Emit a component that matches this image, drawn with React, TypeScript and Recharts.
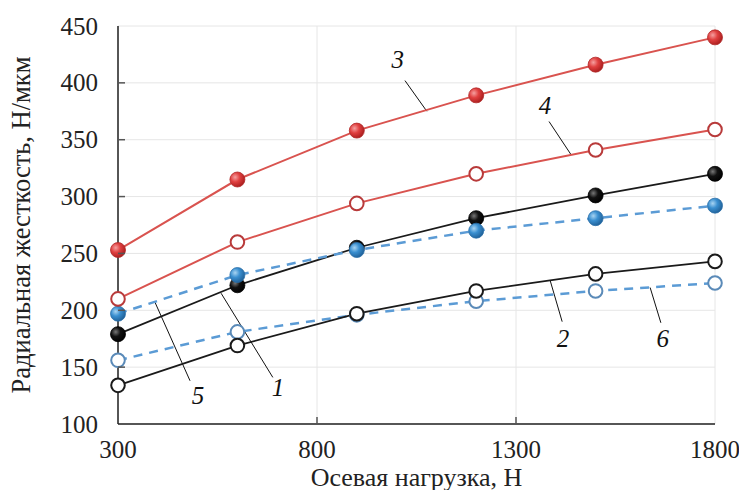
import React from "react";
import {
  CartesianGrid,
  LineChart,
  Line,
  ReferenceDot,
  ReferenceLine,
  XAxis,
  YAxis,
} from "recharts";

// axial load, N
const loads = [300, 600, 900, 1200, 1500, 1800];

// radial stiffness, N/um, per curve
const curve1 = [179, 222, 255, 281, 301, 320];
const curve2 = [134, 169, 197, 217, 232, 243];
const curve3 = [253, 315, 358, 389, 416, 440];
const curve4 = [210, 260, 294, 320, 341, 359];
const curve5 = [197, 231, 253, 270, 281, 292];
const curve6 = [156, 181, 196, 208, 217, 224];

const xTicks = [300, 800, 1300, 1800];
const yTicks = [100, 150, 200, 250, 300, 350, 400, 450];

// curve number labels: text position and leader line (data units)
const labelNames = ["3", "4", "5", "1", "2", "6"];
const labelAt = [
  { x: 1003, y: 420 },
  { x: 1373, y: 380 },
  { x: 501, y: 125 },
  { x: 702, y: 132 },
  { x: 1418, y: 175 },
  { x: 1669, y: 175 },
];
const leaderFrom = [
  { x: 1021, y: 402 },
  { x: 1383, y: 366 },
  { x: 481, y: 138 },
  { x: 689, y: 141 },
  { x: 1416, y: 190 },
  { x: 1664, y: 189 },
];
const leaderTo = [
  { x: 1076, y: 375 },
  { x: 1438, y: 337 },
  { x: 393, y: 207 },
  { x: 559, y: 215 },
  { x: 1386, y: 226 },
  { x: 1637, y: 220 },
];

const data = loads.map((x, i) => ({
  x,
  c1: curve1[i],
  c2: curve2[i],
  c3: curve3[i],
  c4: curve4[i],
  c5: curve5[i],
  c6: curve6[i],
}));

const FONT = "Liberation Serif";
const RED = "#d9534f";
const BLUE = "#5b9bd5";
const BLACK = "#1a1a1a";

const filledDot = (grad: string, edge: string) => (p: any) => (
  <circle key={p.index} cx={p.cx} cy={p.cy} r={7.5} fill={`url(#${grad})`} stroke={edge} strokeWidth={0.8} />
);

const openDot = (color: string) => (p: any) => (
  <circle key={p.index} cx={p.cx} cy={p.cy} r={6.8} fill="#fff" stroke={color} strokeWidth={2} />
);

const YTick = (p: any) => {
  const axisX = p.x + 20;
  return (
    <g>
      {p.index > 0 && p.index < yTicks.length - 1 ? (
        <line x1={axisX} x2={axisX + 7} y1={p.y} y2={p.y} stroke="#555" strokeWidth={1.5} />
      ) : null}
      <text x={p.x} y={p.y} dy={8.5} textAnchor="end" style={{ fontFamily: FONT, fontSize: 25 }} fill="#222">
        {p.payload.value}
      </text>
    </g>
  );
};

const XTick = (p: any) => {
  const axisY = p.y - 14;
  return (
    <g>
      {p.index > 0 && p.index < xTicks.length - 1 ? (
        <line x1={p.x} x2={p.x} y1={axisY} y2={axisY - 7} stroke="#555" strokeWidth={1.5} />
      ) : null}
      <text x={p.x} y={p.y} dy={20} textAnchor="middle" style={{ fontFamily: FONT, fontSize: 25 }} fill="#222">
        {p.payload.value}
      </text>
    </g>
  );
};

export default function App() {
  return (
    <div style={{ width: 747, height: 498, margin: -8, background: "#fff", fontFamily: FONT }}>
      <LineChart width={747} height={498} data={data} margin={{ top: 26, right: 32, bottom: 0, left: 0 }}>
        <defs>
          <radialGradient id="gRed" cx="0.35" cy="0.35" r="0.7">
            <stop offset="0%" stopColor="#f5a0a0" />
            <stop offset="45%" stopColor="#e04040" />
            <stop offset="100%" stopColor="#a81c1c" />
          </radialGradient>
          <radialGradient id="gBlack" cx="0.35" cy="0.35" r="0.7">
            <stop offset="0%" stopColor="#777" />
            <stop offset="45%" stopColor="#111" />
            <stop offset="100%" stopColor="#000" />
          </radialGradient>
          <radialGradient id="gBlue" cx="0.35" cy="0.35" r="0.7">
            <stop offset="0%" stopColor="#a8d4f2" />
            <stop offset="45%" stopColor="#3a8fd0" />
            <stop offset="100%" stopColor="#1f5f96" />
          </radialGradient>
        </defs>
        <CartesianGrid stroke="#e6e6e6" strokeWidth={1} />
        <XAxis
          dataKey="x"
          type="number"
          domain={[300, 1800]}
          ticks={xTicks}
          tickLine={false}
          tickSize={0}
          tickMargin={14}
          axisLine={{ stroke: "#222", strokeWidth: 1.5 }}
          tick={<XTick />}
          height={74}
          label={{
            value: "Осевая нагрузка, Н",
            position: "insideBottom",
            offset: 12,
            style: { fontFamily: FONT, fontSize: 26, fill: "#222" },
          }}
        />
        <XAxis
          xAxisId="top"
          dataKey="x"
          type="number"
          domain={[300, 1800]}
          orientation="top"
          tick={false}
          tickLine={false}
          height={0}
          axisLine={{ stroke: "#555", strokeWidth: 1.5 }}
        />
        <YAxis
          type="number"
          domain={[100, 450]}
          ticks={yTicks}
          tickLine={false}
          tickSize={0}
          tickMargin={20}
          axisLine={{ stroke: "#222", strokeWidth: 1.5 }}
          tick={<YTick />}
          width={118}
          label={{
            value: "Радиальная жесткость, Н/мкм",
            angle: -90,
            position: "insideLeft",
            offset: 21,
            style: { fontFamily: FONT, fontSize: 26.5, fill: "#222", textAnchor: "middle" },
          }}
        />
        <YAxis
          yAxisId="right"
          type="number"
          domain={[100, 450]}
          orientation="right"
          tick={false}
          tickLine={false}
          width={0}
          axisLine={{ stroke: "#555", strokeWidth: 1.5 }}
        />

        {labelNames.map((n, i) => (
          <ReferenceLine
            key={"ld" + n}
            segment={[leaderFrom[i], leaderTo[i]]}
            stroke="#111"
            strokeWidth={1}
            ifOverflow="visible"
          />
        ))}

        <Line dataKey="c6" stroke={BLUE} strokeWidth={2.5} strokeDasharray="9 7" dot={openDot("#5a8ab8")} isAnimationActive={false} />
        <Line dataKey="c2" stroke={BLACK} strokeWidth={1.8} dot={openDot(BLACK)} isAnimationActive={false} />
        <Line dataKey="c1" stroke={BLACK} strokeWidth={1.8} dot={filledDot("gBlack", "#000")} isAnimationActive={false} />
        <Line dataKey="c5" stroke={BLUE} strokeWidth={2.5} strokeDasharray="9 7" dot={filledDot("gBlue", "#2a6ea8")} isAnimationActive={false} />
        <Line dataKey="c4" stroke={RED} strokeWidth={2} dot={openDot("#b83a3a")} isAnimationActive={false} />
        <Line dataKey="c3" stroke={RED} strokeWidth={2} dot={filledDot("gRed", "#b02a2a")} isAnimationActive={false} />

        {labelNames.map((n, i) => (
          <ReferenceDot
            key={"lb" + n}
            x={labelAt[i].x}
            y={labelAt[i].y}
            ifOverflow="visible"
            shape={(p: any) => (
              <text
                x={p.cx}
                y={p.cy}
                dy={8}
                textAnchor="middle"
                style={{ fontFamily: FONT, fontStyle: "italic", fontSize: 25 }}
                fill="#111"
              >
                {n}
              </text>
            )}
          />
        ))}
      </LineChart>
    </div>
  );
}
